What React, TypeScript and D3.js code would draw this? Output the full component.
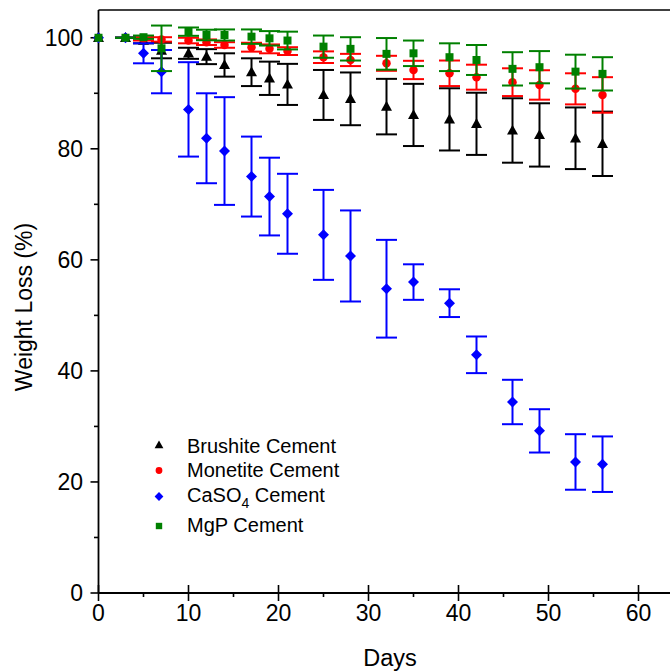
import React from "react";
import * as d3 from "d3";

const days = [0, 3, 5, 7, 10, 12, 14, 17, 19, 21, 25, 28, 32, 35, 39, 42, 46, 49, 53, 56];

const brushite = [100, 100, 99.5, 97.7, 97.2, 96.6, 95.1, 93.8, 92.7, 91.6, 89.7, 89.0, 87.6, 86.1, 85.3, 84.5, 83.3, 82.5, 81.9, 80.9];
const brushiteErr = [0, 0, 0.5, 1.4, 1.0, 1.35, 2.1, 2.5, 3.0, 3.7, 4.5, 4.75, 5.0, 5.6, 5.6, 5.6, 5.8, 5.7, 5.55, 5.8];

const monetite = [100, 100, 99.8, 99.7, 99.5, 99.2, 98.7, 98.3, 98.0, 97.6, 96.5, 96.0, 95.4, 94.2, 93.6, 92.9, 92.0, 91.5, 90.8, 89.7];
const monetiteErr = [0, 0, 0.3, 0.4, 0.5, 0.5, 0.5, 0.8, 0.8, 0.7, 1.05, 1.1, 1.35, 1.65, 2.3, 2.25, 2.5, 2.65, 2.8, 3.2];

const caso4 = [100, 100, 97.2, 93.9, 87.1, 81.9, 79.6, 75.0, 71.4, 68.3, 64.5, 60.7, 54.8, 56.0, 52.2, 42.9, 34.4, 29.2, 23.6, 23.2];
const caso4Err = [0, 0, 1.8, 3.9, 8.5, 8.1, 9.7, 7.2, 7.0, 7.2, 8.1, 8.2, 8.8, 3.2, 2.5, 3.3, 4.0, 3.9, 5.0, 5.0];

const mgp = [100, 100, 100.1, 98.1, 101.1, 100.5, 100.5, 100.2, 99.9, 99.5, 98.4, 98.0, 97.1, 97.2, 96.5, 96.0, 94.4, 94.7, 93.9, 93.5];
const mgpErr = [0, 0, 0.3, 4.1, 0.75, 0.95, 1.0, 1.3, 1.3, 1.6, 2.0, 2.1, 2.85, 2.3, 2.5, 2.7, 3.0, 2.9, 3.05, 3.0];

const xTicks = [0, 10, 20, 30, 40, 50, 60];
const xMinorTicks = [5, 15, 25, 35, 45, 55, 65];
const yTicks = [0, 20, 40, 60, 80, 100];
const yMinorTicks = [10, 30, 50, 70, 90];

const W = 670;
const H = 671;
const x = d3.scaleLinear().domain([0, 65]).range([98.5, 683.5]);
const y = d3.scaleLinear().domain([0, 105]).range([593, 10]);

type Shape = "triangle" | "circle" | "diamond" | "square";

function markerPath(shape: Shape, s: number): string {
  const h = s / 2;
  switch (shape) {
    case "triangle":
      return `M0,${-h * 1.05}L${h},${h * 0.75}L${-h},${h * 0.75}Z`;
    case "circle":
      return `M${-h},0A${h},${h} 0 1,0 ${h},0A${h},${h} 0 1,0 ${-h},0Z`;
    case "diamond":
      return `M0,${-h}L${h},0L0,${h}L${-h},0Z`;
    case "square":
      return `M${-h},${-h}L${h},${-h}L${h},${h}L${-h},${h}Z`;
  }
}

const series = [
  { name: "Brushite Cement", values: brushite, err: brushiteErr, color: "#000000", shape: "triangle" as Shape, size: 11 },
  { name: "Monetite Cement", values: monetite, err: monetiteErr, color: "#ff0000", shape: "circle" as Shape, size: 8.5 },
  { name: "CaSO4 Cement", values: caso4, err: caso4Err, color: "#0000ff", shape: "diamond" as Shape, size: 11 },
  { name: "MgP Cement", values: mgp, err: mgpErr, color: "#008000", shape: "square" as Shape, size: 8 },
];

const legendMarkerY = [445, 470.5, 496.5, 526];
const legendTextY = [452.7, 476.7, 501.7, 531.7];

export default function App() {
  const font = "'Liberation Sans', Arial, sans-serif";
  const cap = 10.5;
  return (
    <svg
      width={W}
      height={H}
      style={{ position: "absolute", left: 0, top: 0, background: "#fff" }}
      fontFamily={font}
    >
      <rect x={0} y={0} width={W} height={H} fill="#fff" />
      {/* frame */}
      <line x1={x(0)} x2={x(65)} y1={y(105)} y2={y(105)} stroke="#000" strokeWidth={1.6} />
      <line x1={x(0)} x2={x(65)} y1={y(0)} y2={y(0)} stroke="#000" strokeWidth={1.8} />
      <line x1={x(0)} x2={x(0)} y1={y(0)} y2={y(105)} stroke="#000" strokeWidth={1.8} />
      {/* x ticks */}
      {xTicks.map((t) => (
        <g key={"xt" + t}>
          <line x1={x(t)} x2={x(t)} y1={y(0) - 8} y2={y(0) + 8} stroke="#000" strokeWidth={1.6} />
          <text x={x(t)} y={621} textAnchor="middle" fontSize={23}>
            {t}
          </text>
        </g>
      ))}
      {xMinorTicks.map((t) => (
        <line key={"xm" + t} x1={x(t)} x2={x(t)} y1={y(0)} y2={y(0) + 4} stroke="#000" strokeWidth={1.6} />
      ))}
      {/* y ticks */}
      {yTicks.map((t) => (
        <g key={"yt" + t}>
          <line x1={x(0) - 8} x2={x(0)} y1={y(t)} y2={y(t)} stroke="#000" strokeWidth={1.6} />
          <text x={83} y={y(t) + 8.3} textAnchor="end" fontSize={23}>
            {t}
          </text>
        </g>
      ))}
      {yMinorTicks.map((t) => (
        <line key={"ym" + t} x1={x(0) - 4.5} x2={x(0)} y1={y(t)} y2={y(t)} stroke="#000" strokeWidth={1.6} />
      ))}
      {/* axis titles */}
      <text x={390} y={666} textAnchor="middle" fontSize={23.5}>
        Days
      </text>
      <text transform="translate(32,307) rotate(-90)" textAnchor="middle" fontSize={23}>
        Weight Loss (%)
      </text>
      {/* data */}
      {series.map((s) => (
        <g key={s.name}>
          {days.map((d, i) =>
            d === 0 ? null : (
              <g key={"e" + i} stroke={s.color} strokeWidth={2}>
                <line x1={x(d)} x2={x(d)} y1={y(s.values[i] - s.err[i])} y2={y(s.values[i] + s.err[i])} />
                <line x1={x(d) - cap} x2={x(d) + cap} y1={y(s.values[i] + s.err[i])} y2={y(s.values[i] + s.err[i])} />
                <line x1={x(d) - cap} x2={x(d) + cap} y1={y(s.values[i] - s.err[i])} y2={y(s.values[i] - s.err[i])} />
              </g>
            )
          )}
          {days.map((d, i) => (
            <path
              key={"m" + i}
              d={markerPath(s.shape, s.size)}
              transform={`translate(${x(d)},${y(s.values[i])})`}
              fill={s.color}
            />
          ))}
        </g>
      ))}
      {/* legend */}
      {series.map((s, i) => (
        <g key={"lg" + i}>
          <path
            d={markerPath(s.shape, s.size * 0.8)}
            transform={`translate(159,${legendMarkerY[i]})`}
            fill={s.color}
          />
          <text x={187} y={legendTextY[i]} fontSize={20}>
            {i === 2 ? (
              <>
                CaSO
                <tspan fontSize={14} dy={6}>
                  4
                </tspan>
                <tspan dy={-6}> Cement</tspan>
              </>
            ) : (
              s.name
            )}
          </text>
        </g>
      ))}
    </svg>
  );
}
